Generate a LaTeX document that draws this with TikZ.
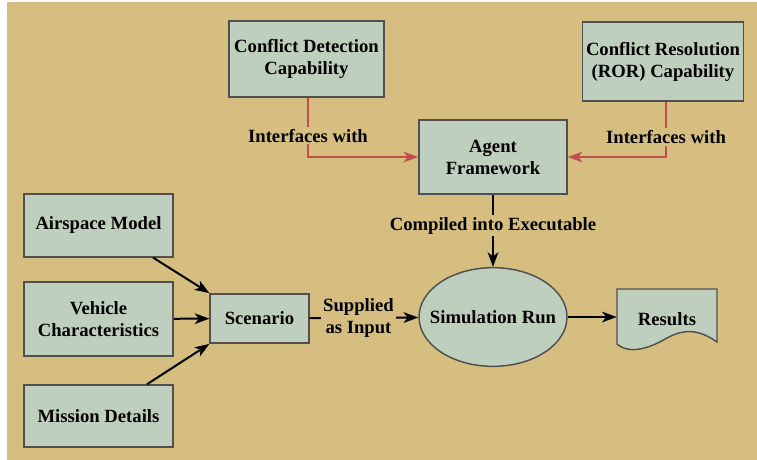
\documentclass[tikz,border=0pt]{standalone}
\usepackage{fontspec}
\setmainfont{Liberation Serif}
\usetikzlibrary{arrows.meta,shapes.geometric}
\definecolor{simTan}{RGB}{213,190,128}
\definecolor{simSage}{RGB}{191,207,189}
\definecolor{simEdge}{RGB}{80,80,80}
\definecolor{simRed}{RGB}{192,80,77}

\begin{document}
\begin{tikzpicture}[x=0.75pt, y=-0.75pt,
    block/.style={rectangle, draw=simEdge, fill=simSage, line width=1.1pt,
                  inner sep=0pt, align=center,
                  font=\fontsize{14}{16.5}\selectfont\bfseries},
    lbl/.style={fill=simTan, inner sep=1.5pt, align=center,
                font=\fontsize{14}{16.5}\selectfont\bfseries},
    txt/.style={inner sep=0pt, font=\fontsize{14}{16.5}\selectfont\bfseries},
    flow/.style={-{Stealth[length=11pt,width=8pt,inset=3pt]}, line width=1.5pt},
    iface/.style={flow, draw=simRed, line width=1.4pt}
  ]
  \useasboundingbox (0,0) rectangle (757,460);
  \fill[simTan] (7,2) rectangle (757,460);

  % capabilities feeding the agent framework
  \node[block, minimum width=116pt, minimum height=57pt]  (cd)    at (306.5,59)  {Conflict Detection\\Capability};
  \node[block, minimum width=121pt, minimum height=59pt]  (cr)    at (663,61.5)  {Conflict Resolution\\(ROR) Capability};
  \node[block, minimum width=111pt, minimum height=55.5pt] (agent) at (493,157)  {Agent\\Framework};

  % scenario inputs
  \node[block, minimum width=112pt, minimum height=47pt]  (air)   at (98.5,225.5) {Airspace Model};
  \node[block, minimum width=112pt, minimum height=55.5pt] (veh)  at (98.5,319)   {Vehicle\\Characteristics};
  \node[block, minimum width=112pt, minimum height=46.5pt] (mis)  at (98.5,416)   {Mission Details};
  \node[block, minimum width=74pt, minimum height=37pt]   (scen)  at (259.5,318.5) {Scenario};

  % the run itself: empty ellipse, text on top
  \node[block, ellipse, minimum width=111pt, minimum height=74pt] (sim) at (493,317) {};
  \node[txt] at (sim.center) {Simulation Run};

  % results document with wavy bottom
  \node[minimum width=75pt, minimum height=41pt, inner sep=0pt] (res) at (667,316.5) {};
  \draw[simEdge, fill=simSage, line width=1.1pt]
    (617,289) -- (717,289) -- (717,342)
    .. controls (700,330) and (685,328) .. (667,338)
    .. controls (650,348) and (630,355) .. (617,344) -- cycle;
  \node[txt] at (667,319) {Results};

  \draw[iface] (cd.south -| 308,0) |- node[lbl, pos=0.32] {Interfaces with} (agent.west);
  \draw[iface] (cr.south -| 666,0) |- node[lbl, pos=0.32] {Interfaces with} (agent.east);
  \draw[flow] (agent) -- node[lbl, pos=0.43] {Compiled into Executable} (sim);

  \draw[flow] (air.south -| 153,0) -- (scen.north west);
  \draw[flow] (veh) -- (scen);
  \draw[flow] (mis.north -| 147,0) -- (scen.south west);
  \draw[flow] (scen) -- node[lbl, pos=0.45] {Supplied\\as Input} (sim);
  \draw[flow] (sim) -- (res.west |- sim.east);
\end{tikzpicture}
\end{document}
